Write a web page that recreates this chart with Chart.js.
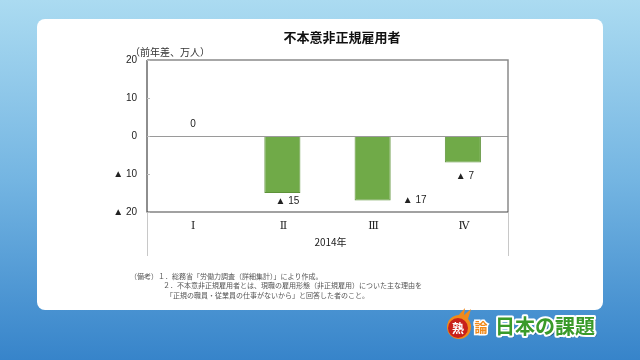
<!DOCTYPE html>
<html><head><meta charset="utf-8">
<script src="https://cdn.jsdelivr.net/npm/chart.js@4.4.0/dist/chart.umd.min.js"></script>
<style>html,body{margin:0;padding:0;background:#fff;}canvas{display:block;}</style>
</head><body>
<canvas id="c" width="640" height="360"></canvas>
<script>
const categories = ['Ⅰ', 'Ⅱ', 'Ⅲ', 'Ⅳ'];
const values = [0, -15, -17, -7];
const valueLabels = ['0', '▲ 15', '▲ 17', '▲ 7'];
const yTicks = [20, 10, 0, -10, -20];
const yTickLabels = ['20', '10', '0', '▲ 10', '▲ 20'];
const title = '不本意非正規雇用者';
const unitLabel = '（前年差、万人）';
const xTitle = '2014年';
const notes = [
  '（備考）１．総務省「労働力調査（詳細集計）」により作成。',
  '２．不本意非正規雇用者とは、現職の雇用形態（非正規雇用）についた主な理由を',
  '「正規の職員・従業員の仕事がないから」と回答した者のこと。'
];

const JP = "'Noto Sans CJK JP', sans-serif";

const bgPlugin = {
  id: 'bg',
  beforeDraw(chart) {
    const ctx = chart.ctx;
    const g = ctx.createLinearGradient(0, 0, 0, 360);
    g.addColorStop(0, '#abdbf1');
    g.addColorStop(0.5, '#74b5e2');
    g.addColorStop(1, '#3784ca');
    ctx.save();
    ctx.fillStyle = g;
    ctx.fillRect(0, 0, 640, 360);
    ctx.fillStyle = '#ffffff';
    ctx.beginPath();
    ctx.roundRect(37, 19, 566, 291, 8);
    ctx.fill();
    ctx.restore();
  }
};

const decoPlugin = {
  id: 'deco',
  afterDatasetsDraw(chart) {
    const ctx = chart.ctx;
    const a = chart.chartArea;
    const y = chart.scales.y, x = chart.scales.x;
    ctx.save();
    // zero line
    ctx.strokeStyle = '#9a9a9a';
    ctx.lineWidth = 1;
    const y0 = Math.round(y.getPixelForValue(0)) + 0.5;
    ctx.beginPath(); ctx.moveTo(a.left, y0); ctx.lineTo(a.right, y0); ctx.stroke();
    // extended verticals below plot
    ctx.strokeStyle = '#c8c8c8';
    ctx.beginPath();
    ctx.moveTo(a.left + 0.5, a.bottom); ctx.lineTo(a.left + 0.5, 256);
    ctx.moveTo(a.right + 0.5, a.bottom); ctx.lineTo(a.right + 0.5, 256);
    ctx.stroke();
    // plot border
    ctx.strokeStyle = '#8a8a8a';
    ctx.lineWidth = 1.5;
    ctx.beginPath();
    ctx.moveTo(a.left, a.top); ctx.lineTo(a.right, a.top); ctx.lineTo(a.right, a.bottom);
    ctx.stroke();
    ctx.strokeStyle = '#444';
    ctx.lineWidth = 1.2;
    ctx.beginPath();
    ctx.moveTo(a.right, a.bottom); ctx.lineTo(a.left, a.bottom); ctx.lineTo(a.left, a.top);
    ctx.stroke();
    // y ticks
    ctx.fillStyle = '#222';
    ctx.font = "10px 'Liberation Sans', Arial, sans-serif";
    ctx.textAlign = 'right'; ctx.textBaseline = 'middle';
    yTicks.forEach((v, i) => {
      const py = y.getPixelForValue(v);
      ctx.fillText(yTickLabels[i], a.left - 10, py);
      ctx.strokeStyle = '#bbb'; ctx.lineWidth = 1;
      ctx.beginPath(); ctx.moveTo(a.left, Math.round(py) + 0.5); ctx.lineTo(a.left + 3, Math.round(py) + 0.5); ctx.stroke();
    });
    // x labels
    ctx.textAlign = 'center';
    ctx.font = "11px 'DejaVu Serif', 'Liberation Serif', 'Noto Sans CJK JP', serif";
    categories.forEach((c, i) => {
      ctx.fillText(c, x.getPixelForValue(i) + 1, 226);
    });
    ctx.font = "10px " + JP;
    ctx.fillText(xTitle, (a.left + a.right) / 2 + 3, 242);
    // value labels
    const meta = chart.getDatasetMeta(0);
    const dx = [1, 5, 42, 2];
    const dy = [-12, 8, 0, 14];
    ctx.font = "10px 'Liberation Sans', Arial, sans-serif";
    meta.data.forEach((bar, i) => {
      ctx.fillText(valueLabels[i], bar.x + dx[i], bar.y + dy[i]);
    });
    // title
    ctx.font = "bold 13px " + JP;
    ctx.fillStyle = '#111';
    ctx.fillText(title, 342, 37);
    ctx.font = "10px " + JP;
    ctx.textAlign = 'left';
    ctx.fillStyle = '#333';
    ctx.fillText(unitLabel, 130, 52);
    // notes
    ctx.font = "7px " + JP;
    ctx.fillStyle = '#555';
    ctx.fillText(notes[0], 130, 276);
    ctx.fillText(notes[1], 163, 285);
    ctx.fillText(notes[2], 166, 295);
    // logo
    ctx.fillStyle = '#f08a1c';
    ctx.beginPath(); ctx.moveTo(457, 317); ctx.lineTo(465, 308); ctx.lineTo(464, 315); ctx.lineTo(471, 309); ctx.lineTo(468, 319); ctx.closePath(); ctx.fill();
    ctx.beginPath(); ctx.arc(459, 327, 12, 0, Math.PI * 2); ctx.fill();
    ctx.fillStyle = '#c8201a';
    ctx.beginPath(); ctx.arc(458, 328, 10, 0, Math.PI * 2); ctx.fill();
    ctx.font = "bold 12px " + JP;
    ctx.textAlign = 'center';
    ctx.fillStyle = '#fff';
    ctx.fillText('熟', 458, 328);
    ctx.lineWidth = 3; ctx.strokeStyle = '#fff';
    ctx.font = "bold 13px " + JP;
    ctx.strokeText('論', 481, 327);
    ctx.fillStyle = '#f08a1c';
    ctx.fillText('論', 481, 327);
    ctx.font = "bold 20px " + JP;
    ctx.textAlign = 'left';
    ctx.fillStyle = 'rgba(0,40,80,0.6)';
    ctx.fillText('日本の課題', 497, 328);
    ctx.lineWidth = 4; ctx.strokeStyle = '#fff'; ctx.lineJoin = 'round';
    ctx.strokeText('日本の課題', 495, 326);
    ctx.fillStyle = '#3a9a2a';
    ctx.fillText('日本の課題', 495, 326);
    ctx.restore();
  }
};

new Chart(document.getElementById('c'), {
  type: 'bar',
  data: {
    labels: categories,
    datasets: [{
      data: values,
      backgroundColor: '#70aa48',
      borderColor: '#5d9239',
      borderWidth: 1,
      categoryPercentage: 1,
      barPercentage: 0.4
    }]
  },
  options: {
    responsive: false,
    animation: false,
    devicePixelRatio: 1,
    layout: { padding: { left: 147, top: 60, right: 132, bottom: 148 } },
    plugins: { legend: { display: false }, tooltip: { enabled: false } },
    scales: {
      x: { display: false },
      y: { display: false, min: -20, max: 20 }
    }
  },
  plugins: [bgPlugin, decoPlugin]
});
</script>
</body></html>
